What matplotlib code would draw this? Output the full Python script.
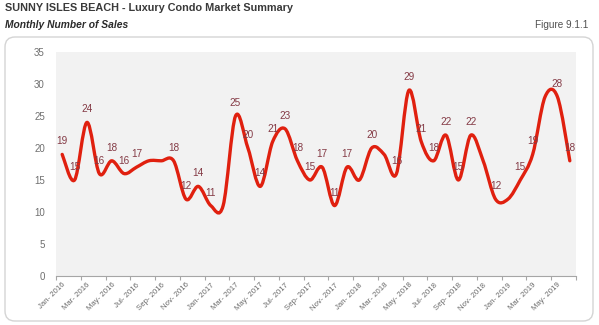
import matplotlib
matplotlib.use("Agg")
import matplotlib.pyplot as plt
from matplotlib.path import Path
from matplotlib.patches import PathPatch, FancyBboxPatch
import numpy as np

plt.rcParams['font.family'] = ['Liberation Sans', 'DejaVu Sans']

months = ["Jan", "Feb", "Mar", "Apr", "May", "Jun", "Jul", "Aug", "Sep", "Oct", "Nov", "Dec"]
categories = [f"{months[m]}- {y}" for y in (2016, 2017, 2018, 2019) for m in range(12)][:42]
sales = [19, 15, 24, 16, 18, 16, 17, 18, 18, 18, 12, 14, 11, 11,
         25, 20, 14, 21, 23, 18, 15, 17, 11, 17, 15, 20, 19, 16,
         29, 21, 18, 22, 15, 22, 18, 12, 12, 15, 19, 28, 28, 18]
labeled = [True, True, True, True, True, True, True, False, False, True, True, True, True, False,
           True, True, True, True, True, True, True, True, True, True, False, True, False, True,
           True, True, True, True, True, True, False, True, False, True, True, False, True, True]
y_ticks = [0, 5, 10, 15, 20, 25, 30, 35]

fig = plt.figure(figsize=(5.99, 3.25), dpi=100)
fig.patch.set_facecolor('white')

# rounded frame
box = FancyBboxPatch((0.05, 0.04), 5.88, 2.84, boxstyle="round,pad=0,rounding_size=0.1",
                     transform=fig.dpi_scale_trans, facecolor='white', edgecolor='#d4d4d4',
                     linewidth=1.0, zorder=-10)
fig.patches.append(box)

fig.text(5 / 599, 1 - 8 / 325, "SUNNY ISLES BEACH - Luxury Condo Market Summary",
         fontsize=7.8, fontweight='bold', color='#3a3a3a', va='center', ha='left')
fig.text(5 / 599, 1 - 25 / 325, "Monthly Number of Sales",
         fontsize=7.4, fontweight='bold', fontstyle='italic', color='#2a2a2a', va='center', ha='left')
fig.text(588 / 599, 1 - 25 / 325, "Figure 9.1.1",
         fontsize=7.2, color='#505050', va='center', ha='right')

ax = fig.add_axes([56 / 599, 1 - 276 / 325, 520 / 599, 224 / 325])
ax.set_zorder(5)
ax.set_facecolor('#f2f2f2')
n = len(sales)
x = np.arange(n)
ax.set_xlim(-0.5, n - 0.5)
ax.set_ylim(0, 35)

# smooth line (Excel-style Bezier through the data points)
pts = np.column_stack([x, sales]).astype(float)
verts = [tuple(pts[0])]
codes = [Path.MOVETO]
for i in range(n - 1):
    p0 = pts[i - 1] if i > 0 else pts[i]
    p1 = pts[i]
    p2 = pts[i + 1]
    p3 = pts[i + 2] if i + 2 < n else pts[i + 1]
    c1 = p1 + (p2 - p0) / 6.0
    c2 = p2 - (p3 - p1) / 6.0
    verts += [tuple(c1), tuple(c2), tuple(p2)]
    codes += [Path.CURVE4, Path.CURVE4, Path.CURVE4]
ax.add_patch(PathPatch(Path(verts, codes), facecolor='none', edgecolor='#e0200f',
                       linewidth=2.4, capstyle='round', joinstyle='round', zorder=3))

for xi, v, lab in zip(x, sales, labeled):
    if lab:
        ax.annotate(str(v), (xi, v), xytext=(0, 9.3), textcoords='offset points',
                    ha='center', va='center', fontsize=7.2, color='#843a45', zorder=4)

for s in ['top', 'right', 'left']:
    ax.spines[s].set_visible(False)
ax.spines['bottom'].set_color('#a6a6a6')
ax.spines['bottom'].set_linewidth(0.8)

ax.set_yticks(y_ticks)
ax.tick_params(axis='y', length=0, labelsize=7, labelcolor='#6f6f6f', pad=8)

ax.set_xticks(np.arange(-0.5, n, 2), minor=False)
ax.set_xticklabels([])
ax.tick_params(axis='x', which='major', length=3, color='#a6a6a6', width=0.8)
ax.set_xticks(x[::2], minor=True)
ax.set_xticklabels(categories[::2], minor=True, rotation=45, ha='right', va='top',
                   rotation_mode='anchor', fontsize=5.6, color='#6a6a6a')
ax.tick_params(axis='x', which='minor', length=0, pad=4)

fig.savefig("out.png", dpi=100, facecolor='white')
